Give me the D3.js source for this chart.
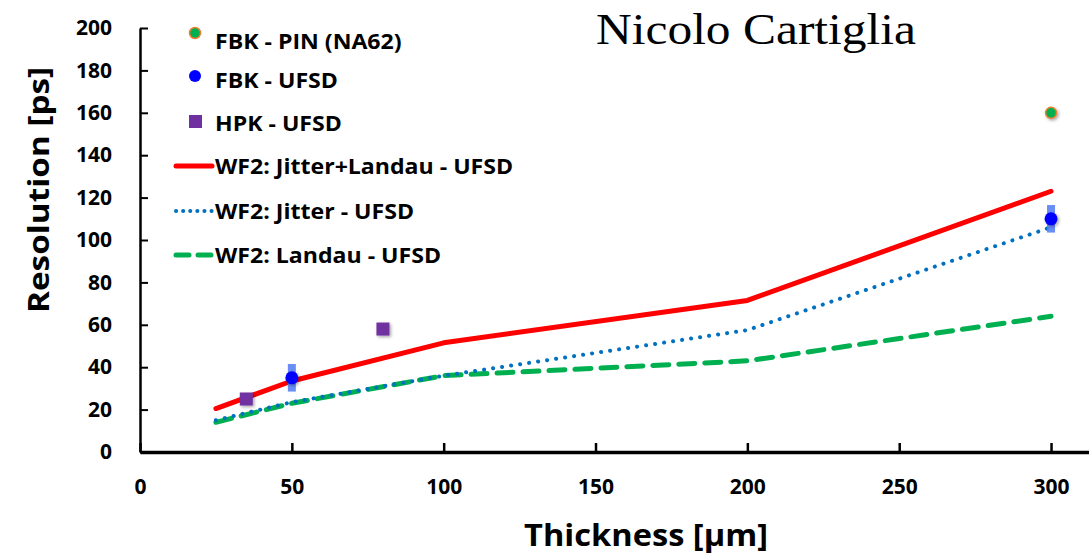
<!DOCTYPE html>
<html>
<head>
<meta charset="utf-8">
<script src="https://cdn.jsdelivr.net/npm/d3@7"></script>
<style>
  body { margin: 0; background: #fff; }
  svg { display: block; }
</style>
</head>
<body>
<svg></svg>
<script>
const W = 1089, H = 556;

// data
const xTicks = [0, 50, 100, 150, 200, 250, 300];
const yTicks = [0, 20, 40, 60, 80, 100, 120, 140, 160, 180, 200];

const pinPoints = [{ x: 300, y: 160 }];
const fbkPoints = [{ x: 50, y: 35, err: 6.5 }, { x: 300, y: 110, err: 6.5 }];
const hpkPoints = [{ x: 35, y: 25 }, { x: 80, y: 58 }];

const modelX = [25, 50, 100, 200, 300];
const jitterLandau = [20.5, 33.5, 51.5, 71.5, 123];
const jitter = [15, 23.5, 36, 57.5, 106];
const landau = [14, 23, 36, 43, 64];

const svg = d3.select('svg')
  .attr('width', W)
  .attr('height', H);

const x = d3.scaleLinear().domain([0, 312.5]).range([140, 1089]);
const y = d3.scaleLinear().domain([0, 200]).range([452, 28]);

const defs = svg.append('defs');
const shadow = defs.append('filter').attr('id', 'shadow')
  .attr('x', '-50%').attr('y', '-50%').attr('width', '200%').attr('height', '200%');
shadow.append('feDropShadow')
  .attr('dx', 1.5).attr('dy', 1.5).attr('stdDeviation', 1.5)
  .attr('flood-color', '#000').attr('flood-opacity', 0.35);

const font = '"Open Sans", Lato, sans-serif';

// y axis
const yAxis = svg.append('g')
  .attr('transform', `translate(${x(0)},0)`)
  .call(d3.axisLeft(y).tickValues(yTicks).tickSizeInner(-8).tickSizeOuter(0).tickPadding(28));
yAxis.select('.domain').attr('stroke', '#000').attr('stroke-width', 2.5);
yAxis.selectAll('.tick line').attr('stroke', '#000').attr('stroke-width', 2);
yAxis.selectAll('.tick text')
  .attr('font-family', font).attr('font-weight', 'bold').attr('font-size', 21).attr('fill', '#000');

// x axis
const xAxis = svg.append('g')
  .attr('transform', `translate(0,${y(0)})`)
  .call(d3.axisBottom(x).tickValues(xTicks).tickSizeInner(-9).tickSizeOuter(0).tickPadding(27));
xAxis.select('.domain').attr('stroke', '#000').attr('stroke-width', 3.5);
xAxis.selectAll('.tick line').attr('stroke', '#000').attr('stroke-width', 2.5);
xAxis.selectAll('.tick text')
  .attr('font-family', font).attr('font-weight', 'bold').attr('font-size', 21).attr('fill', '#000');

// axis titles
svg.append('text')
  .attr('transform', 'translate(49,190) rotate(-90)')
  .attr('text-anchor', 'middle')
  .attr('font-family', font).attr('font-weight', 'bold').attr('font-size', 28)
  .attr('textLength', 246).attr('lengthAdjust', 'spacingAndGlyphs')
  .text('Resolution [ps]');

svg.append('text')
  .attr('x', 646).attr('y', 546)
  .attr('text-anchor', 'middle')
  .attr('font-family', font).attr('font-weight', 'bold').attr('font-size', 30)
  .attr('textLength', 244).attr('lengthAdjust', 'spacingAndGlyphs')
  .text('Thickness [\u03bcm]');

svg.append('text')
  .attr('x', 756).attr('y', 44)
  .attr('text-anchor', 'middle')
  .attr('font-family', '"Liberation Serif", "DejaVu Serif", serif').attr('font-size', 44)
  .attr('textLength', 320).attr('lengthAdjust', 'spacingAndGlyphs')
  .text('Nicolo Cartiglia');

// model lines
const line = d3.line().x(d => x(d[0])).y(d => y(d[1]));
const series = [
  { name: 'WF2: Jitter+Landau - UFSD', vals: jitterLandau, color: '#ff0000', width: 5, dash: null },
  { name: 'WF2: Jitter - UFSD', vals: jitter, color: '#0070c0', width: 4, dash: '0.1 9' },
  { name: 'WF2: Landau - UFSD', vals: landau, color: '#00b050', width: 5, dash: '16 10' },
];

svg.append('g').selectAll('path')
  .data(series.slice().reverse())
  .enter().append('path')
  .attr('d', s => line(modelX.map((v, i) => [v, s.vals[i]])))
  .attr('fill', 'none')
  .attr('stroke', s => s.color)
  .attr('stroke-width', s => s.width)
  .attr('stroke-linecap', 'round')
  .attr('stroke-linejoin', 'round')
  .attr('stroke-dasharray', s => s.dash);

// FBK error bars and points
const fbk = svg.append('g');
fbk.selectAll('rect')
  .data(fbkPoints)
  .enter().append('rect')
  .attr('x', d => x(d.x) - 4)
  .attr('y', d => y(d.y + d.err))
  .attr('width', 8)
  .attr('height', d => y(d.y - d.err) - y(d.y + d.err))
  .attr('fill', '#5a82f5')
  .attr('opacity', 0.9);
fbk.selectAll('circle')
  .data(fbkPoints)
  .enter().append('circle')
  .attr('cx', d => x(d.x))
  .attr('cy', d => y(d.y))
  .attr('r', 6.5)
  .attr('fill', '#0000ff')
  .attr('filter', 'url(#shadow)');

// HPK squares
svg.append('g').selectAll('rect')
  .data(hpkPoints)
  .enter().append('rect')
  .attr('x', d => x(d.x) - 6.5)
  .attr('y', d => y(d.y) - 6.5)
  .attr('width', 13)
  .attr('height', 13)
  .attr('fill', '#7030a0')
  .attr('filter', 'url(#shadow)');

// PIN point
svg.append('g').selectAll('circle')
  .data(pinPoints)
  .enter().append('circle')
  .attr('cx', d => x(d.x))
  .attr('cy', d => y(d.y))
  .attr('r', 5.5)
  .attr('fill', '#00b050')
  .attr('stroke', '#ed7d31')
  .attr('stroke-width', 1.5)
  .attr('filter', 'url(#shadow)');

// legend
const legendItems = [
  { name: 'FBK - PIN (NA62)', type: 'pin', ty: 49 },
  { name: 'FBK - UFSD', type: 'fbk', ty: 88 },
  { name: 'HPK - UFSD', type: 'hpk', ty: 131 },
  ...series.map((s, i) => Object.assign({ type: 'line', ty: [174, 219, 263][i] }, s)),
];

const legend = svg.append('g');
const items = legend.selectAll('g')
  .data(legendItems)
  .enter().append('g');

items.append('text')
  .attr('transform', d => `translate(215,${d.ty}) scale(1.1,1)`)
  .attr('font-family', font).attr('font-weight', 'bold').attr('font-size', 21)
  .text(d => d.name);

items.filter(d => d.type === 'pin').append('circle')
  .attr('cx', 195).attr('cy', 33).attr('r', 5.5)
  .attr('fill', '#00b050').attr('stroke', '#ed7d31').attr('stroke-width', 1.5);
items.filter(d => d.type === 'fbk').append('circle')
  .attr('cx', 195).attr('cy', 76).attr('r', 6)
  .attr('fill', '#0000ff');
items.filter(d => d.type === 'hpk').append('rect')
  .attr('x', 189).attr('y', 115).attr('width', 13).attr('height', 13)
  .attr('fill', '#7030a0');
items.filter(d => d.type === 'line').append('line')
  .attr('x1', 176).attr('x2', 212)
  .attr('y1', d => d.ty - 8).attr('y2', d => d.ty - 8)
  .attr('stroke', d => d.color)
  .attr('stroke-width', d => d.width)
  .attr('stroke-linecap', 'round')
  .attr('stroke-dasharray', d => d.dash ? (d.width === 4 ? '0.1 7' : '13 9') : null);
</script>
</body>
</html>
